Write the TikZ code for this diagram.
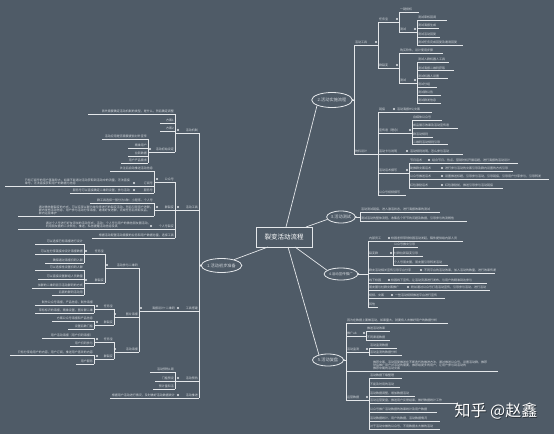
\documentclass[tikz,border=0pt]{standalone}
\usepackage{fontspec}
\setmainfont{Noto Sans CJK SC}
\usetikzlibrary{shapes.geometric}
\definecolor{bgc}{HTML}{4F5B67}
\definecolor{lnc}{HTML}{E4E7EA}
\definecolor{txc}{HTML}{D2D7DC}
\tikzset{
  ln/.style={draw=lnc, line width=0.7pt},
  tp/.style={inner xsep=1pt, inner ysep=0.7pt, text=txc, font=\fontsize{3}{3.4}\selectfont},
  tpR/.style={tp, anchor=south west, align=left},
  tpL/.style={tp, anchor=south east, align=right},
  tpLm/.style={tp, anchor=south east, align=left},
  ell/.style={ellipse, draw=lnc, line width=0.8pt, fill=bgc, inner sep=0pt, text=txc, font=\fontsize{4.2}{4.2}\selectfont},
  dotc/.style={fill=lnc},
  rootbox/.style={draw=lnc, line width=0.8pt, fill=bgc, minimum width=56pt, minimum height=20pt, text=white, font=\fontsize{6.5}{7}\selectfont},
}
\newcommand\mR[5]{\node[tpR] (#1) at (#2,#3) {#5};\coordinate (#1-e) at (#2+#4,#3);\draw[ln] (#1.south west) -- (#1-e);}
\newcommand\mL[5]{\node[tpL] (#1) at (#2,#3) {#5};\coordinate (#1-s) at (#2-#4,#3);\draw[ln] (#1-s) -- (#1.south east);}
\newcommand\mD[2]{\fill[dotc] (#1,#2-3) circle (1.1pt);}
\begin{document}
\begin{tikzpicture}[x=1pt,y=-1pt]
\fill[bgc] (0,0) rectangle (554,434);
\useasboundingbox (0,0) rectangle (554,434);

% ---------- root and main topics
\node[rootbox] (root) at (284,237) {裂变活动流程};
\node[ell, minimum width=37pt, minimum height=14pt] (E1) at (221.5,265.5) {1.活动初步准备};
\node[ell, minimum width=39pt, minimum height=15pt] (E2) at (332,100) {2.活动实施流程};
\node[ell, minimum width=28pt, minimum height=12pt] (E3) at (341,217) {3.活动测试};
\node[ell, minimum width=30pt, minimum height=12pt, font=\fontsize{3.5}{3.5}\selectfont] (E4) at (341,274) {4.活动宣传推广};
\node[ell, minimum width=31pt, minimum height=12pt] (E5) at (328,360) {5.活动复盘};
\coordinate (r1) at (268,247);
\coordinate (r2) at (286,227);
\coordinate (r3) at (306,227);
\coordinate (r4) at (295,247);
\coordinate (r5) at (288,247);
\draw[ln] (r1) -- (E1.25);
\draw[ln] (r2) -- (E2.200);
\draw[ln] (r3) -- (E3.190);
\draw[ln] (r4) -- (E4.165);
\draw[ln] (r5) -- (E5.150);

% ---------- branch 2
\coordinate (T2) at (354,100);
\draw[ln] (E2.east) -- (T2);
\fill[dotc] (E2.east) circle (1.1pt);
\mR{A1}{354}{45}{24}{活动工具}
\mR{A1a}{378}{22}{21}{任务宝}
\mR{A1a1}{399}{12}{20}{一键授权}
\mR{A1a2}{399}{32}{18}{测试}
\mR{t1}{417}{20}{30}{测试审核回调}
\mR{t2}{417}{28}{22}{测试海报生成}
\mR{t3}{417}{37}{23}{测试活动回复}
\mR{t4}{417}{45}{46}{测试任务完成回复及邀请回复}
\mR{A1b}{378}{68}{21}{群裂变}
\mR{A1b1}{399}{53}{44}{购买软件，设计使用步骤}
\mR{A1b2}{399}{83}{18}{测试}
\mR{u1}{417}{62}{32}{测试入群机器人工具}
\mR{u2}{417}{70.5}{37}{测试海报二维码获取}
\mR{u3}{417}{78.5}{31}{测试机器人设置}
\mR{u4}{417}{87}{20}{测试分组}
\mR{u5}{417}{95}{24}{测试群公告}
\mR{u6}{417}{103}{24}{测试群发信息}
\mR{A2}{354}{154}{24}{物料设计}
\mR{B1}{378}{112}{18}{链接}
\mR{B1c}{396}{112}{36}{活动海报H5/文案}
\mR{B2}{378}{133}{34}{宣传语（理念）}
\mR{B2a}{412}{120}{30}{自媒体公众号}
\mR{B2b}{412}{128}{46}{成品展示效果及活动宣传语}
\mR{B2c}{412}{137}{21}{群活动规则}
\mR{B2d}{412}{144.5}{36}{二维码活动规则引导}
\mR{B3}{378}{154}{31}{活动卡与说明}
\mR{B3c}{409}{154}{54}{活动规则说明，怎么参与活动}
\mR{B4}{378}{173}{31}{活动话术撰写}
\mR{C1}{409}{163}{22}{节日话术}
\mR{C1c}{431}{163}{87}{结合节日、热点、营销时机开展话题，进行海报的活动设计}
\mR{C2}{409}{171}{35}{助推群文案话术}
\mR{C2c}{444}{171}{69}{进行参与活动的文案引导及群内设置的方式引导}
\mR{C3}{409}{179}{35}{公众号推送话术}
\mR{C3c}{444}{179}{105}{设置推送标题，引导参与活动，引导链接，引导用户分享参与，引导转发}
\mR{C4}{409}{188}{35}{红包激励话术}
\mR{C4c}{444}{188}{59}{红包激励前，推送引导参与活动链接}
\mR{B5}{378}{195}{28}{公众号视频撰写}
\draw[ln] (A1.south west) -- (A2.south west);
\draw[ln] (A1a.south west) -- (A1b.south west);
\draw[ln] (A1a1.south west) -- (A1a2.south west);
\draw[ln] (t1.south west) -- (t4.south west);
\draw[ln] (A1b1.south west) -- (A1b2.south west);
\draw[ln] (u1.south west) -- (u6.south west);
\draw[ln] (B1.south west) -- (B5.south west);
\draw[ln] (B2a.south west) -- (B2d.south west);
\draw[ln] (C1.south west) -- (C4.south west);
\mD{376}{45}\mD{397}{22}\mD{415}{32}\mD{397}{68}\mD{415}{83}
\mD{394}{112}\mD{410}{133}\mD{407}{154}\mD{407}{173}
\mD{429}{163}\mD{442}{171}\mD{442}{179}\mD{442}{188}

% ---------- branch 3
\coordinate (T3) at (360,217);
\draw[ln] (E3.east) -- (T3);
\fill[dotc] (E3.east) circle (1.1pt);
\mR{D1}{360}{212}{80}{活动测试链接，进入激活状态，进行海报效果的测试}
\mR{D2}{360}{221}{107}{测试活动的整体流程，收集各个环节的问题及数据，引导参与的流畅性}
\draw[ln] (D1.south west) -- (D2.south west);

% ---------- branch 4
\coordinate (T4) at (368,274);
\draw[ln] (E4.east) -- (T4);
\fill[dotc] (E4.east) circle (1.1pt);
\mR{F1}{368}{241}{22}{内部员工}
\mR{F1c}{390}{241}{73}{校园老师带领校园活动发起，稿件提供给内部人员}
\mR{F2}{368}{256}{25}{裂变群}
\mR{F2a}{393}{247}{25}{公众号推文引导}
\mR{F2b}{393}{256}{30}{社群拉新裂变引导}
\mR{F2c}{393}{265}{55}{个人号朋友圈，朋友圈引导转发活动}
\mR{F3}{368}{273}{55}{群友活动相关宣传引导平台分享}
\mR{F3c}{423}{273}{72}{不同平台的活动效果，加入活动的数量，进行效果传递}
\mR{F4}{368}{283}{22}{线下校园}
\mR{F4c}{390}{283}{97}{校园线下宣传，让活动资源进行发布，与用户的精准到达参与}
\mR{F5}{368}{290}{42}{朋友圈与社群文案推广}
\mR{F5c}{410}{290}{80}{粉丝通过公众号打造活动宣传，引导参与活动，进行活动}
\mR{F6}{368}{298}{26}{视频、文案}
\mR{F6c}{394}{298}{51}{一些活动视频推送平台进行宣传}
\mR{F7}{368}{307}{10}{其他}
\draw[ln] (F1.south west) -- (F7.south west);
\draw[ln] (F2a.south west) -- (F2c.south west);
\mD{389}{241}\mD{391}{256}\mD{421}{273}\mD{389}{283}\mD{408}{290}\mD{392}{298}

% ---------- branch 5
\coordinate (T5) at (346,360);
\draw[ln] (E5.east) -- (T5);
\fill[dotc] (E5.east) circle (1.1pt);
\mR{G1}{346}{323}{102}{因为在数据上面做活动，如果量大，就要有人去做好用户的数据分析}
\mR{G2}{346}{336}{20}{推广ab}
\mR{G2a}{366}{331}{24}{推送活动效果}
\mR{G2b}{366}{340}{24}{不同渠道数据}
\mR{G3}{346}{352}{23}{活动监测}
\mR{G3a}{369}{348}{28}{活动监测数据}
\mR{G3b}{369}{355}{33}{活动监测的数据分析}
\node[tpR] (G4) at (372,371) {推荐文案，活动回复推送在不断迭代的推进方法，通过推送公众号，设置活动群，推荐\\然后推广用户对活动的需要，推荐给更多的用户，让用户参与到活动的\\推荐中期的活动文案};
\coordinate (G4s) at (346,371);
\coordinate (G4e) at (498,371);
\draw[ln] (G4s) -- (G4e);
\mR{G5}{346}{400}{23}{运营数据}
\mR{H1}{369}{378}{33}{活动数据下载整理}
\mR{H2}{369}{387}{31}{不能及时用的活动}
\mR{H3}{369}{396}{46}{活动数据调整，增加数据活动}
\mR{H4}{369}{403}{88}{活动运营复盘，推送用户反馈结果，做好数据统计工作}
\mR{H5}{369}{412}{68}{公众号推广活动数据的效果统计及用户数据}
\mR{H6}{369}{421}{71}{活动数据统计，用户的数据，活动数据情况}
\mR{H7}{369}{429}{71}{对于活动中做的公众号，不用数据太大做的活动}
\draw[ln] (G1.south west) -- (G5.south west);
\draw[ln] (G2a.south west) -- (G2b.south west);
\draw[ln] (G3a.south west) -- (G3b.south west);
\draw[ln] (H1.south west) -- (H7.south west);
\mD{364}{336}\mD{367}{352}\mD{367}{400}

% ---------- branch 1 (left)
\coordinate (T1) at (199,265.5);
\draw[ln] (E1.west) -- (T1);
\fill[dotc] (E1.west) circle (1.1pt);
\mL{L1}{199}{133}{23}{活动机制}
\mL{L1a}{175}{114}{87}{首先需要确定活动机制的类型，是什么，然后确定调整}
\mL{L1b}{175}{123}{15}{方案1}
\mL{L1c}{175}{131}{15}{方案2}
\mL{L1d}{175}{152}{27}{活动初始设定}
\mL{L1d1}{148}{139}{46}{活动应用是否需要提前对外宣传}
\mL{L1d2}{148}{148}{20}{精准用户}
\mL{L1d3}{148}{156}{20}{拉新数据}
\mL{L1d4}{148}{163}{27}{用户产品需求}
\draw[ln] (L1a.south east) -- (L1d.south east);
\draw[ln] (L1d1.south east) -- (L1d4.south east);
\mD{178}{133}\mD{150}{152}

\mL{L2}{199}{210}{23}{活动工具}
\mL{L2p}{175}{182}{21}{公众号}
\mL{L2p1}{154}{171}{44}{关注后自动推送活动信息}
\mL{L2p2}{154}{186}{23}{订阅号}
\node[tpLm] (L2p2c) at (131,186) {已有订阅号的用户基础较大，如果不能通过活动获取到活动中的流量，无法直接\\单号，无法直接获取用户的数据与信息};
\coordinate (L2p2cs) at (5,186);
\draw[ln] (L2p2cs) -- (L2p2c.south east);
\mL{L2p3}{154}{193}{23}{服务号}
\mL{L2p3c}{131}{193}{61}{服务号可以直接确定二维码设置，参与活动}
\mL{L2g}{175}{210}{21}{群裂变}
\mL{L2g1}{154}{203}{64}{群工具选择一般分为3种：小程序、个人号}
\node[tpLm] (L2g2) at (154,216) {通过微信群裂变的方式，可以实现以群为单位来进行的裂变活动，然后引导用户进群，\\群内发布活动信息，用户参与活动分享海报，邀请好友进群，完成任务后领取奖品，\\群内运营维护};
\coordinate (L2g2s) at (18,216);
\draw[ln] (L2g2s) -- (L2g2.south east);
\mL{L2i}{175}{229}{23}{个人号裂变}
\node[tpLm] (L2ic) at (152,229) {通过个人号进行好友添加的活动形式，活动：个人号与用户的微信朋友圈活动，\\利用朋友圈的二次转化，推送，私信提醒活动信息及其};
\coordinate (L2ics) at (18,229);
\draw[ln] (L2ics) -- (L2ic.south east);
\mL{L2j}{175}{238}{83}{根据活动配置活动需要的业务和用户数据总量，选择工具}
\draw[ln] (L2p.south east) -- (L2j.south east);
\draw[ln] (L2p1.south east) -- (L2p3.south east);
\draw[ln] (L2g1.south east) -- (L2g2.south east);
\mD{178}{210}\mD{157}{182}\mD{134}{186}\mD{134}{193}\mD{157}{210}\mD{151}{229}

\mL{L3}{199}{311}{23}{工具搭建}
\mL{L3c}{176}{311}{37}{海报设计+二维码}
\mL{L3a}{139}{268}{34}{活动参与二维码}
\mL{L3a1}{105}{254}{21}{任务宝}
\mL{M1}{84}{244}{49}{可以选择已有海报进行设计}
\mL{M2}{84}{254}{49}{可以在分享链接中设计海报数据}
\mL{M3}{84}{263}{39}{确保通过海报扫码入群}
\mL{L3a2}{105}{283}{21}{群裂变}
\mL{M4}{84}{270}{49}{可以选择性设置扫码人群}
\mL{M5}{84}{279}{46}{可以直接设置群组人员数量}
\mL{M6}{84}{288}{52}{加群的二维码显示活动群码的方式}
\mL{M7}{84}{295}{32}{后面的群码活动用}
\mL{L3b}{139}{317}{25}{图片海报}
\mL{L3b1}{114}{309}{20}{任务宝}
\mL{M8}{94}{305}{59}{制作公众号海报，产品信息，制作海报}
\mL{M9}{94}{313}{59}{带有标识的海报，精准设置，图片群二维}
\mL{L3b2}{114}{325}{20}{群裂变}
\mL{M10}{94}{321}{42}{方案公众号海报和产品信息}
\mL{M11}{94}{329}{26}{设置后数门槛}
\mL{L3e}{139}{352}{25}{活动海报}
\mL{L3e1}{114}{342}{20}{任务宝}
\mL{M12}{94}{338}{52}{用户活动海报（用户扫码海报）}
\mL{M13}{94}{346}{24}{用户扫码参与}
\mL{L3e2}{114}{359}{20}{群裂变}
\mL{M14}{94}{355}{84}{只有分享给用户的内容，用户订阅，推送用户喜欢的内容}
\mL{M15}{94}{364}{18}{用户服务}
\draw[ln] (L3a.south east) -- (L3e.south east);
\draw[ln] (L3a1.south east) -- (L3a2.south east);
\draw[ln] (M1.south east) -- (M3.south east);
\draw[ln] (M4.south east) -- (M7.south east);
\draw[ln] (L3b1.south east) -- (L3b2.south east);
\draw[ln] (M8.south east) -- (M9.south east);
\draw[ln] (M10.south east) -- (M11.south east);
\draw[ln] (L3e1.south east) -- (L3e2.south east);
\draw[ln] (M12.south east) -- (M13.south east);
\draw[ln] (M14.south east) -- (M15.south east);
\mD{178}{311}\mD{141}{311}\mD{107}{268}\mD{86}{254}\mD{86}{283}
\mD{115}{317}\mD{97}{309}\mD{97}{325}\mD{115}{352}\mD{97}{342}\mD{97}{359}

\mL{L4}{199}{381}{23}{活动预热}
\mL{L4a}{175}{372}{25}{活动预热1周}
\mL{L4b}{175}{381}{20}{门槛预设}
\mL{L4c}{175}{389}{22}{预计量和活}
\draw[ln] (L4a.south east) -- (L4c.south east);
\mL{L5}{199}{398}{23}{活动推进}
\mL{L5c}{176}{398}{66}{根据用户活动进行情况，及时做好活动数据统计}
\draw[ln] (L1.south east) -- (L5.south east);
\mD{178}{381}\mD{178}{398}

% ---------- watermark
\node[anchor=west, text=black, opacity=0.45, font=\fontsize{16}{16}\selectfont] (wms) at (451.8,411.8) {知乎 @赵鑫};
\node[anchor=west, text=white, font=\fontsize{16}{16}\selectfont] (wm) at (451,411) {知乎 @赵鑫};
\end{tikzpicture}
\end{document}
